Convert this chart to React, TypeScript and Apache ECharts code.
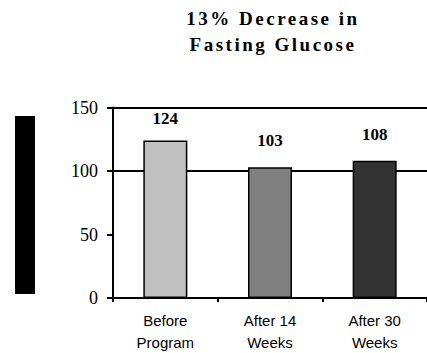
import React, { useEffect, useRef } from "react";
import * as echarts from "echarts";

const titleLines = ["13% Decrease in", "Fasting Glucose"];
const categories = ["Before\nProgram", "After 14\nWeeks", "After 30\nWeeks"];
const values = [124, 103, 108];
const barColors = ["#C0C0C0", "#808080", "#333333"];
const yMin = 0;
const yMax = 150;
const yStep = 50;

const SERIF = "'Liberation Serif', 'Times New Roman', serif";
const SANS = "'Liberation Sans', Arial, sans-serif";

export default function App() {
  const ref = useRef<HTMLDivElement>(null);

  useEffect(() => {
    if (!ref.current) return;
    const chart = echarts.init(ref.current, undefined, { renderer: "svg" });
    chart.setOption({
      animation: false,
      backgroundColor: "#ffffff",
      title: {
        text: titleLines.join("\n"),
        left: 273,
        top: 5,
        padding: 0,
        textAlign: "center",
        textStyle: {
          fontFamily: SERIF,
          fontWeight: "bold",
          fontSize: 19,
          lineHeight: 26.5,
          color: "#000",
        },
      },
      graphic: [
        {
          type: "rect",
          shape: { x: 15, y: 116, width: 20, height: 178 },
          style: { fill: "#000" },
        },
      ],
      grid: { left: 113, top: 107.5, width: 322.5, height: 195 },
      xAxis: {
        type: "category",
        data: categories,
        boundaryGap: true,
        axisLine: { show: true, lineStyle: { color: "#000", width: 2 } },
        axisTick: { show: true, length: 4, alignWithLabel: false, lineStyle: { color: "#000", width: 2 } },
        axisLabel: {
          interval: 0,
          margin: 11,
          fontFamily: SANS,
          fontSize: 15,
          lineHeight: 22,
          color: "#000",
        },
      },
      yAxis: [
        {
          type: "value",
          min: yMin,
          max: yMax,
          interval: yStep,
          axisLine: { show: true, lineStyle: { color: "#000", width: 2 } },
          axisTick: { show: true, length: 6, lineStyle: { color: "#000", width: 2 } },
          axisLabel: {
            margin: 15,
            fontFamily: SERIF,
            fontSize: 18,
            color: "#000",
          },
          splitLine: { show: false },
        },
        {
          type: "value",
          min: yMin,
          max: yMax,
          interval: 100,
          position: "left",
          axisLine: { show: false },
          axisTick: { show: false },
          axisLabel: { show: false },
          splitLine: { show: true, lineStyle: { color: "#000", width: 2 } },
        },
      ],
      series: [
        {
          type: "bar",
          yAxisIndex: 0,
          barWidth: 44,
          data: values.map((v, i) => ({
            value: v,
            itemStyle: { color: barColors[i], borderColor: "#000", borderWidth: 1.5 },
            label: { distance: i === 0 ? 14 : 18 },
          })),
          label: {
            show: true,
            position: "top",
            fontFamily: SERIF,
            fontWeight: "bold",
            fontSize: 17,
            color: "#000",
          },
        },
      ],
    });
    return () => chart.dispose();
  }, []);

  return (
    <>
      <style>{`.chartbox text[style*="19px"] { letter-spacing: 2.5px; }`}</style>
      <div
        ref={ref}
        className="chartbox"
        style={{ position: "fixed", left: 0, top: 0, width: 427, height: 353 }}
      />
    </>
  );
}
